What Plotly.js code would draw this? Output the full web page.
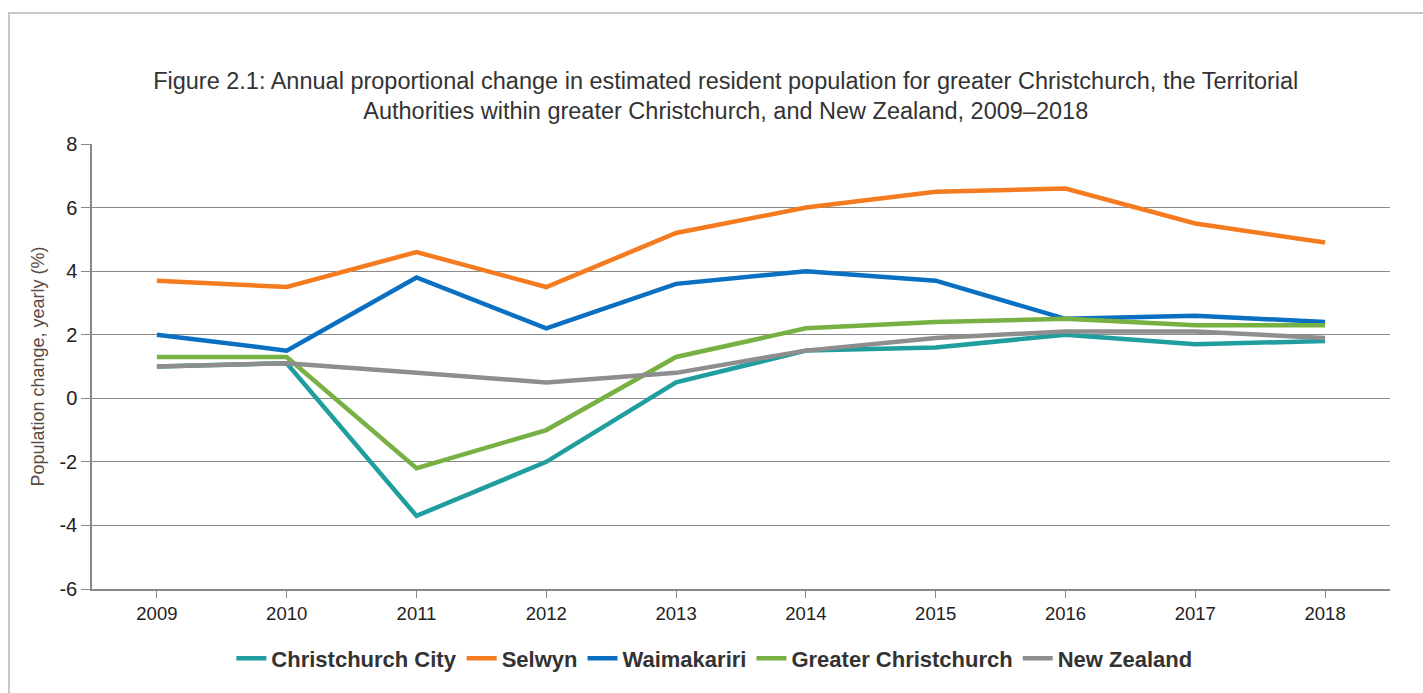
<!DOCTYPE html>
<html>
<head>
<meta charset="utf-8">
<script src="https://cdn.plot.ly/plotly-3.0.1.min.js"></script>
<style>
  html, body { margin: 0; padding: 0; background: #fff; }
  #frame { position: absolute; left: 8px; top: 12px; right: 0; bottom: 0; border-top: 2px solid #c8c8c8; border-left: 2px solid #c8c8c8; }
  #chart { position: absolute; left: 0; top: 0; width: 1423px; height: 693px; }
</style>
</head>
<body>
<div id="frame"></div>
<div id="chart"></div>
<script>
const years = ['2009','2010','2011','2012','2013','2014','2015','2016','2017','2018'];
const christchurchCity = [1.0, 1.1, -3.7, -2.0, 0.5, 1.5, 1.6, 2.0, 1.7, 1.8];
const selwyn = [3.7, 3.5, 4.6, 3.5, 5.2, 6.0, 6.5, 6.6, 5.5, 4.9];
const waimakariri = [2.0, 1.5, 3.8, 2.2, 3.6, 4.0, 3.7, 2.5, 2.6, 2.4];
const greaterChristchurch = [1.3, 1.3, -2.2, -1.0, 1.3, 2.2, 2.4, 2.5, 2.3, 2.3];
const newZealand = [1.0, 1.1, 0.8, 0.5, 0.8, 1.5, 1.9, 2.1, 2.1, 1.9];
const yTicks = [-6, -4, -2, 0, 2, 4, 6, 8];

const seriesNames = ['Christchurch City', 'Selwyn', 'Waimakariri', 'Greater Christchurch', 'New Zealand'];
const seriesValues = [christchurchCity, selwyn, waimakariri, greaterChristchurch, newZealand];
const colors = ['#1f9d9f', '#f47b20', '#0b70c1', '#78b143', '#8e8e8e'];

const traces = seriesNames.map((name, i) => ({
  type: 'scatter',
  mode: 'lines',
  name: name,
  x: years,
  y: seriesValues[i],
  line: { color: colors[i], width: 4.5 },
  hoverinfo: 'x+y+name'
}));

const layout = {
  width: 1423,
  height: 693,
  paper_bgcolor: 'rgba(0,0,0,0)',
  plot_bgcolor: 'rgba(0,0,0,0)',
  margin: { l: 92, r: 33, t: 144, b: 104 },
  font: { family: 'Liberation Sans, Arial, sans-serif', color: '#222' },
  title: {
    text: 'Figure 2.1: Annual proportional change in estimated resident population for greater Christchurch, the Territorial<br>Authorities within greater Christchurch, and New Zealand, 2009–2018',
    font: { family: 'Liberation Sans, Arial, sans-serif', size: 23.5, color: '#333' },
    x: 0.51, xref: 'container', xanchor: 'center',
    y: 0.872, yref: 'container', yanchor: 'middle'
  },
  xaxis: {
    type: 'category',
    range: [-0.5, 9.5],
    showgrid: false,
    showline: true, linecolor: '#888', linewidth: 1.5,
    ticks: 'outside', ticklen: 7, tickcolor: '#888', tickwidth: 1,
    tickfont: { size: 18.5, color: '#222' },
    zeroline: false,
    fixedrange: true
  },
  yaxis: {
    range: [-6, 8],
    tickvals: yTicks,
    ticktext: yTicks.map(String),
    showgrid: true, gridcolor: '#8a8a8a', gridwidth: 1.3,
    zeroline: true, zerolinecolor: '#8a8a8a', zerolinewidth: 1.3,
    showline: true, linecolor: '#888', linewidth: 1.5,
    ticks: 'outside', ticklen: 9, tickcolor: '#888', tickwidth: 1,
    tickfont: { size: 20, color: '#222' },
    title: { text: 'Population change, yearly (%)', font: { size: 18, color: '#5a4a44' }, standoff: 10 },
    fixedrange: true
  },
  showlegend: true,
  legend: {
    orientation: 'h',
    x: 0.502, xref: 'container', xanchor: 'center',
    y: 0.05, yref: 'container', yanchor: 'middle',
    font: { family: 'Liberation Sans, Arial, sans-serif', size: 22, color: '#333', weight: 'bold' },
    itemwidth: 30
  }
};

Plotly.newPlot('chart', traces, layout, { displayModeBar: false });
</script>
</body>
</html>
